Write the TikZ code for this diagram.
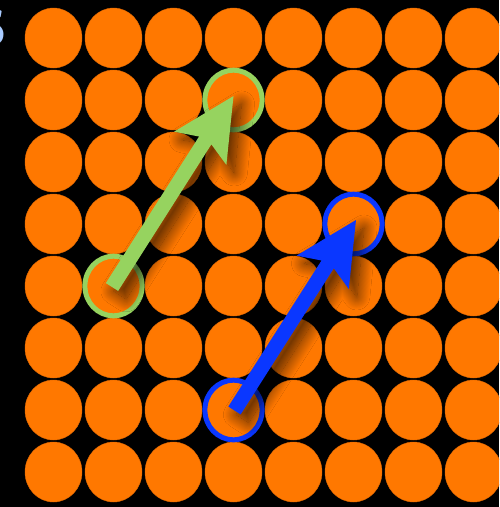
\documentclass[tikz,border=0pt]{standalone}
\usetikzlibrary{calc,shapes.geometric,shadows.blur}
\definecolor{dotorange}{HTML}{FF7800}
\definecolor{dotedge}{HTML}{E06800}
\definecolor{argreen}{HTML}{96D35F}
\definecolor{arblue}{HTML}{0A37FF}
\definecolor{glyphblue}{HTML}{A9CBFF}
\tikzset{
  dot/.style={ellipse, fill=dotorange, draw=dotedge, line width=0.4pt,
    minimum width=57pt, minimum height=60pt, inner sep=0pt},
  ringline/.style={line width=5pt},
  arrowshadow/.style={blur shadow={shadow xshift=8pt, shadow yshift=-8pt,
    shadow blur radius=13pt, shadow blur steps=30, shadow opacity=70}},
}
% #1 colour, #2 tail, #3 tip
\newcommand\fatarrow[3]{%
  \fill[#1, arrowshadow]
    ($(#2)!7.3pt!90:(#3)$)
    -- ($(#3)!52.7pt!(#2)!7.3pt!-90:(#2)$)
    -- ($(#3)!62pt!(#2)!31pt!-90:(#2)$)
    -- (#3)
    -- ($(#3)!62pt!(#2)!31pt!90:(#2)$)
    -- ($(#3)!52.7pt!(#2)!7.3pt!90:(#2)$)
    -- ($(#2)!7.3pt!-90:(#3)$)
    -- cycle;}
\begin{document}
\begin{tikzpicture}[x=1pt,y=-1pt]
  \useasboundingbox (0,0) rectangle (499,507);
  \fill[black] (0,0) rectangle (499,507);
  \clip (0,0) rectangle (499,507);
  % partial glyph at the top-left edge
  \node[anchor=east, inner sep=0pt, text=glyphblue, font=\sffamily\bfseries\fontsize{50}{50}\selectfont]
    (glyph) at (7.5,27) {S};
  % grid of dots
  \foreach \i in {0,...,7}{
    \foreach \j in {0,...,7}{
      \node[dot] (c-\i-\j) at ({53.5+60*\i},{38+62*\j}) {};
    }
  }
  % rings
  \draw[ringline, argreen] (c-1-4.center) ellipse [x radius=28.6, y radius=29.8];
  \draw[ringline, argreen] (c-3-1.center) ellipse [x radius=28.6, y radius=29.8];
  \draw[ringline, arblue] (c-3-6.center) ellipse [x radius=28.6, y radius=29.8];
  \draw[ringline, arblue] (c-5-3.center) ellipse [x radius=28.6, y radius=29.8];
  % arrow end points
  \coordinate (gtail) at ($(c-1-4.center)+(-1.5,1)$);
  \coordinate (gtip)  at ($(c-3-1.center)+(0,-4)$);
  \coordinate (btail) at ($(c-3-6.center)+(1,0.5)$);
  \coordinate (btip)  at ($(c-5-3.center)+(2.5,-4)$);
  % arrows
  \fatarrow{argreen}{gtail}{gtip}
  \fatarrow{arblue}{btail}{btip}
\end{tikzpicture}
\end{document}
